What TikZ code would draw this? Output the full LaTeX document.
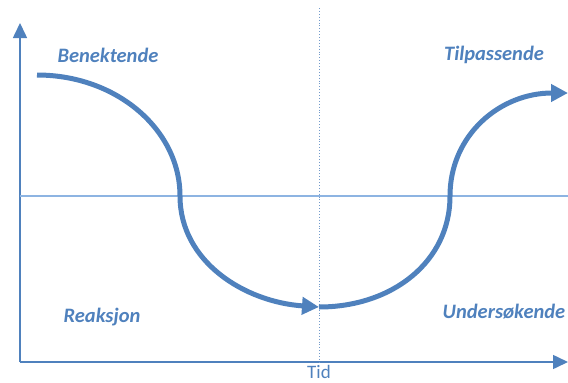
\documentclass[tikz,border=0pt]{standalone}
\usepackage{fontspec}
\setmainfont{Carlito}
\usetikzlibrary{arrows.meta}
\definecolor{curveblue}{RGB}{79,129,189}
\definecolor{lineblue}{RGB}{141,180,226}
\begin{document}
\begin{tikzpicture}[
    x=1pt, y=-1pt,
    axis/.style={draw=curveblue, line width=1.6pt, -{Triangle[length=15pt, width=14pt]}},
    phase/.style={draw=curveblue, line width=5pt, -{Triangle[length=17pt, width=17pt]}},
    stage/.style={text=curveblue, font=\fontsize{20.5}{24}\selectfont\bfseries\itshape, inner sep=0pt},
    midline/.style={draw=lineblue, line width=1.2pt},
    timeline/.style={draw=curveblue!80, line width=0.9pt, dotted}
]
\useasboundingbox (0,0) rectangle (568,383);

% Axes
\coordinate (origin) at (20,362);
\coordinate (ytop) at (20,23);
\coordinate (xend) at (568,362);
\draw[axis] (origin) -- (ytop);
\draw[axis] (origin) -- (xend);

% Reference lines
\coordinate (midleft) at (20,196);
\coordinate (midright) at (568,196);
\draw[midline] (midleft) -- (midright);
\coordinate (ttop) at (319,8);
\coordinate (tbot) at (319,362);
\draw[timeline] (ttop) -- (tbot);

% Curve
\coordinate (start) at (37,75);
\coordinate (down) at (180,196);
\coordinate (bottom) at (319,307);
\coordinate (up) at (450,196);
\coordinate (finish) at (568,93);
\draw[phase] (start) .. controls (117,75) and (180,130) .. (down)
             .. controls (180,262) and (245,302) .. (bottom);
\draw[phase] (bottom) .. controls (392,307) and (450,262) .. (up)
             .. controls (450,135) and (500,93) .. (finish);

% Labels
\node[stage] (benektende) at (108,55) {Benektende};
\node[stage] (tilpassende) at (494,55) {Tilpassende};
\node[stage] (reaksjon) at (102,317) {Reaksjon};
\node[stage] (undersokende) at (504,312) {Undersøkende};
\node[text=curveblue, font=\fontsize{19}{22}\selectfont, inner sep=0pt] (tid) at (319,372) {Tid};

\end{tikzpicture}
\end{document}
